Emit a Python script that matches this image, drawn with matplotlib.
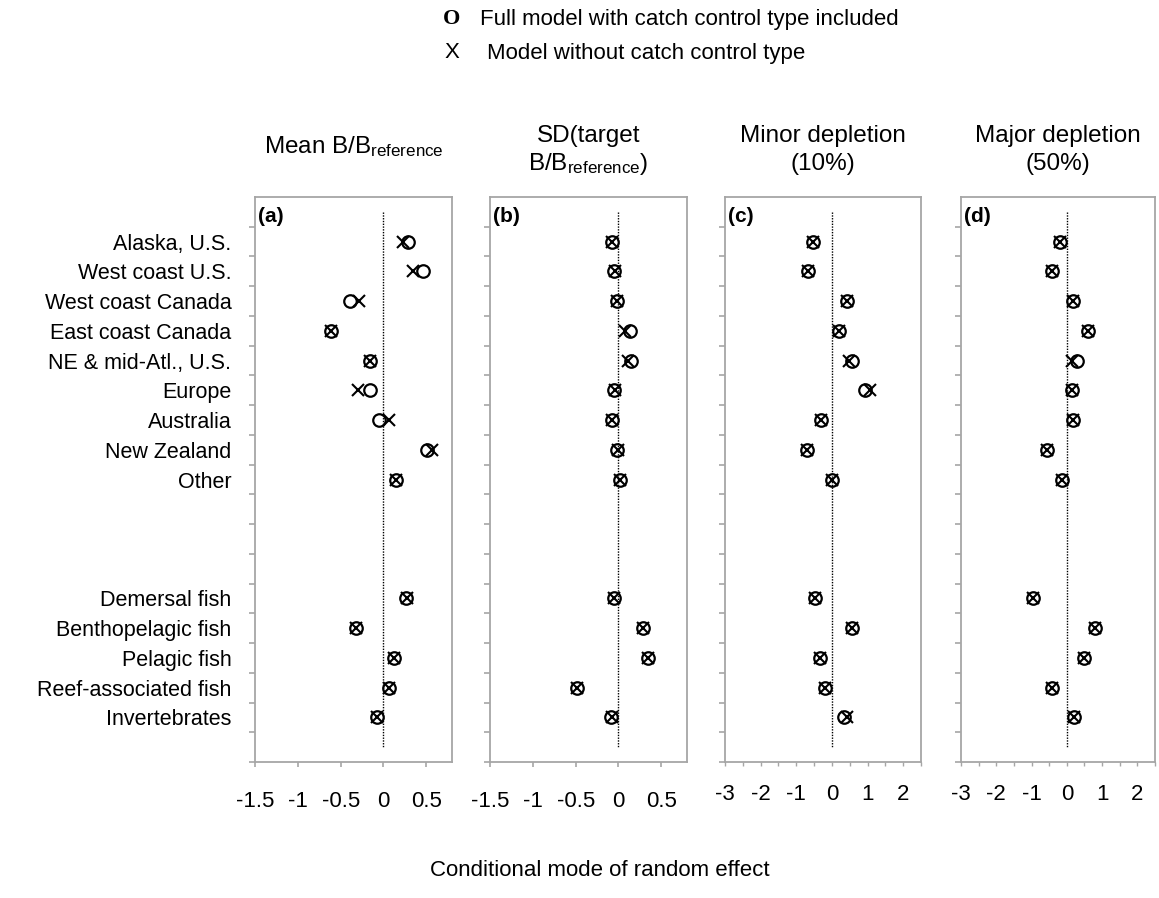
import matplotlib
matplotlib.use("Agg")
import matplotlib.pyplot as plt
import numpy as np

plt.rcParams['font.family'] = ['Liberation Sans', 'DejaVu Sans']
plt.rcParams['mathtext.fontset'] = 'custom'
plt.rcParams['mathtext.rm'] = 'Liberation Sans'
plt.rcParams['mathtext.it'] = 'Liberation Sans'

# ---- data ----
regions = ['Alaska, U.S.', 'West coast U.S.', 'West coast Canada', 'East coast Canada',
           'NE & mid-Atl., U.S.', 'Europe', 'Australia', 'New Zealand', 'Other']
taxa = ['Demersal fish', 'Benthopelagic fish', 'Pelagic fish',
        'Reef-associated fish', 'Invertebrates']

titles = ['Mean B/B$_{\\mathrm{reference}}$',
          'SD(target\nB/B$_{\\mathrm{reference}}$)',
          'Minor depletion\n(10%)',
          'Major depletion\n(50%)']
panel_tags = ['(a)', '(b)', '(c)', '(d)']

full_a = [0.29, 0.46, -0.39, -0.61, -0.16, -0.16, -0.05, 0.51, 0.15,
          0.26, -0.32, 0.12, 0.06, -0.08]
nocc_a = [0.23, 0.35, -0.28, -0.61, -0.16, -0.30, 0.06, 0.57, 0.15,
          0.27, -0.32, 0.12, 0.06, -0.08]
full_b = [-0.08, -0.05, -0.02, 0.14, 0.15, -0.05, -0.08, -0.02, 0.02,
          -0.05, 0.29, 0.34, -0.48, -0.09]
nocc_b = [-0.08, -0.04, -0.02, 0.08, 0.11, -0.04, -0.08, -0.01, 0.02,
          -0.05, 0.29, 0.35, -0.48, -0.08]
full_c = [-0.54, -0.68, 0.42, 0.20, 0.57, 0.94, -0.31, -0.71, 0.00,
          -0.48, 0.57, -0.34, -0.20, 0.34]
nocc_c = [-0.54, -0.68, 0.42, 0.20, 0.47, 1.07, -0.31, -0.71, 0.00,
          -0.48, 0.57, -0.34, -0.20, 0.41]
full_d = [-0.20, -0.43, 0.17, 0.60, 0.30, 0.14, 0.17, -0.57, -0.14,
          -0.97, 0.80, 0.49, -0.43, 0.20]
nocc_d = [-0.20, -0.43, 0.17, 0.60, 0.16, 0.14, 0.17, -0.57, -0.14,
          -0.97, 0.80, 0.49, -0.43, 0.20]

xticks_small = [-1.5, -1, -0.5, 0, 0.5]
xticks_big = [-3, -2, -1, 0, 1, 2]

# ---- layout ----
W, H = 1159, 898
fig = plt.figure(figsize=(W / 100, H / 100), dpi=100)

# row positions: blank row 0, regions 1-9, 3 blank rows, taxa 13-17, blank 18
rows = list(range(1, 10)) + list(range(13, 18))
n_rows = 19
row_labels = [''] * n_rows
for r, lab in zip(rows, regions + taxa):
    row_labels[r] = lab

boxes = [(255, 452), (490, 687), (725, 921), (961, 1155)]
top_px, bot_px = 197, 762
panels = [(full_a, nocc_a), (full_b, nocc_b), (full_c, nocc_c), (full_d, nocc_d)]
grey = '#A6A6A6'

for i, ((x0, x1), (fv, nv)) in enumerate(zip(boxes, panels)):
    ax = fig.add_axes([x0 / W, 1 - bot_px / H, (x1 - x0) / W, (bot_px - top_px) / H])
    ax.plot([0, 0], [0, n_rows - 1], color='black', lw=1.0, linestyle=(0, (1, 1)))
    ax.plot(fv, rows, linestyle='none', marker='o', ms=9, mfc='none',
            mec='black', mew=1.6)
    ax.plot(nv, rows, linestyle='none', marker='x', ms=9, mec='black', mew=1.5)
    ax.set_ylim(n_rows - 0.5, -0.5)
    # tick marks at row boundaries
    ax.set_yticks(np.arange(0.5, n_rows, 1.0))
    ax.set_yticklabels([])
    ax.tick_params(axis='y', which='major', length=4, width=1.2, color=grey)
    if i == 0:
        ax.set_yticks(np.arange(n_rows), minor=True)
        ax.set_yticklabels(row_labels, minor=True, fontsize=15.5)
        ax.tick_params(axis='y', which='minor', length=0, pad=17)
    else:
        ax.tick_params(axis='y', which='minor', length=0)
    if i < 2:
        ax.set_xlim(-1.5, 0.8)
        ax.set_xticks(xticks_small)
        ax.set_xticklabels([f'{v:g}' for v in xticks_small], fontsize=16)
        ax.tick_params(axis='x', length=3.6, width=1.2, color=grey, pad=17)
    else:
        ax.set_xlim(-3, 2.5)
        ax.set_xticks(np.arange(-3, 2.51, 0.5))
        labs = [f'{v:g}' if float(v).is_integer() and v <= 2 else '' for v in np.arange(-3, 2.51, 0.5)]
        ax.set_xticklabels(labs, fontsize=16)
        ax.tick_params(axis='x', length=3, width=1.0, color=grey, pad=13)
    for s in ax.spines.values():
        s.set_color(grey)
        s.set_linewidth(1.3)
    ax.text(0.015, 0.983, panel_tags[i], transform=ax.transAxes, fontsize=15,
            fontweight='bold', va='top', ha='left')
    cx = (x0 + x1) / 2 / W
    lines = titles[i].split('\n')
    if len(lines) == 1:
        fig.text(cx, 1 - 153 / H, lines[0], ha='center', va='baseline', fontsize=17.5)
    else:
        fig.text(cx, 1 - 142 / H, lines[0], ha='center', va='baseline', fontsize=17.5)
        fig.text(cx, 1 - 170 / H, lines[1], ha='center', va='baseline', fontsize=17.5)

# legend text
fig.text(452 / W, 1 - 19 / H, 'O', family='Liberation Serif', fontsize=16,
         fontweight='bold', ha='center', va='center')
fig.text(480 / W, 1 - 19 / H, 'Full model with catch control type included',
         fontsize=16, ha='left', va='center')
fig.text(452 / W, 1 - 53 / H, 'X', fontsize=16, ha='center', va='center')
fig.text(487 / W, 1 - 53 / H, 'Model without catch control type',
         fontsize=16, ha='left', va='center')

fig.text(600 / W, 1 - 870 / H, 'Conditional mode of random effect',
         fontsize=16, ha='center', va='center')

fig.savefig('out.png', dpi=100)
